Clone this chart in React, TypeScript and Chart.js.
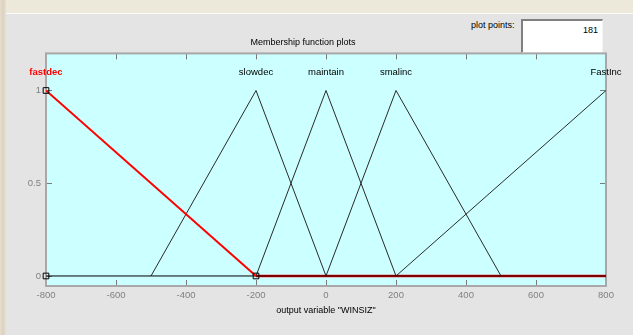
import React, { useEffect, useRef } from "react";
import { Chart, registerables } from "chart.js";

Chart.register(...registerables);

// ---- data ----
const xTickValues = [-800, -600, -400, -200, 0, 200, 400, 600, 800];
const yTickValues = [0, 0.5, 1];
const mfNames = ["fastdec", "slowdec", "maintain", "smalinc", "FastInc"];
const mfLabelX = [-800, -200, 0, 200, 800];
const fastdecX = [-800, -200];
const fastdecY = [1, 0];
const fastdecTailX = [-200, 800];
const fastdecTailY = [0, 0];
const slowdecX = [-500, -200, 0];
const slowdecY = [0, 1, 0];
const maintainX = [-200, 0, 200];
const maintainY = [0, 1, 0];
const smalincX = [0, 200, 500];
const smalincY = [0, 1, 0];
const fastincX = [200, 800];
const fastincY = [0, 1];
const zeroX = [-800, 800];
const zeroY = [0, 0];
const handleX = [-800, -800, -200];
const handleY = [1, 0, 0];
const plotPoints = 181;
const chartTitle = "Membership function plots";
const xAxisTitle = 'output variable "WINSIZ"';

const pts = (xs: number[], ys: number[]) => xs.map((x, i) => ({ x, y: ys[i] }));

const FONT = "'Liberation Sans', Arial, sans-serif";

const mfPlugin = {
  id: "mfDecor",
  beforeDatasetsDraw(chart: any) {
    const { ctx, chartArea: a, scales } = chart;
    ctx.save();
    ctx.fillStyle = "#ccffff";
    ctx.fillRect(a.left, a.top, a.right - a.left, a.bottom - a.top);
    // inner ticks
    ctx.strokeStyle = "#7a7a7a";
    ctx.lineWidth = 1;
    ctx.beginPath();
    for (const v of xTickValues) {
      const px = Math.round(scales.x.getPixelForValue(v)) + 0.5;
      ctx.moveTo(px, a.bottom);
      ctx.lineTo(px, a.bottom - 6);
      ctx.moveTo(px, a.top);
      ctx.lineTo(px, a.top + 6);
    }
    for (const v of yTickValues) {
      const py = Math.round(scales.y.getPixelForValue(v)) + 0.5;
      ctx.moveTo(a.left, py);
      ctx.lineTo(a.left + 6, py);
      ctx.moveTo(a.right, py);
      ctx.lineTo(a.right - 6, py);
    }
    ctx.stroke();
    // border
    ctx.strokeStyle = "#a8a8a8";
    ctx.lineWidth = 2;
    ctx.strokeRect(a.left, a.top, a.right - a.left, a.bottom - a.top);
    ctx.restore();
  },
  afterDatasetsDraw(chart: any) {
    const { ctx, scales } = chart;
    ctx.save();
    ctx.textAlign = "center";
    ctx.textBaseline = "middle";
    const py = scales.y.getPixelForValue(1.1);
    mfNames.forEach((name, i) => {
      const px = scales.x.getPixelForValue(mfLabelX[i]);
      if (i === 0) {
        ctx.fillStyle = "#ff0000";
        ctx.font = `bold 9.5px ${FONT}`;
      } else {
        ctx.fillStyle = "#000000";
        ctx.font = `9.5px ${FONT}`;
      }
      ctx.fillText(name, px, py);
    });
    ctx.restore();
  },
};

export default function App() {
  const ref = useRef<HTMLCanvasElement | null>(null);

  useEffect(() => {
    if (!ref.current) return;
    const black = "#2a2a2a";
    const chart = new Chart(ref.current, {
      type: "scatter",
      data: {
        datasets: [
          {
            label: "handles",
            data: pts(handleX, handleY),
            showLine: false,
            pointStyle: "rect",
            pointRadius: 4,
            borderColor: "#000",
            backgroundColor: "rgba(0,0,0,0)",
            borderWidth: 1,
            clip: false,
            order: 0,
          } as any,
          {
            label: "fastdec",
            data: pts(fastdecX, fastdecY),
            showLine: true,
            borderColor: "#ff0000",
            borderWidth: 2,
            pointRadius: 0,
            order: 1,
          },
          {
            label: "zero",
            data: pts(zeroX, zeroY),
            showLine: true,
            borderColor: "#000",
            borderWidth: 1,
            pointRadius: 0,
            order: 2,
          },
          {
            label: "slowdec",
            data: pts(slowdecX, slowdecY),
            showLine: true,
            borderColor: black,
            borderWidth: 1,
            pointRadius: 0,
            order: 3,
          },
          {
            label: "maintain",
            data: pts(maintainX, maintainY),
            showLine: true,
            borderColor: black,
            borderWidth: 1,
            pointRadius: 0,
            order: 3,
          },
          {
            label: "smalinc",
            data: pts(smalincX, smalincY),
            showLine: true,
            borderColor: black,
            borderWidth: 1,
            pointRadius: 0,
            order: 3,
          },
          {
            label: "FastInc",
            data: pts(fastincX, fastincY),
            showLine: true,
            borderColor: black,
            borderWidth: 1,
            pointRadius: 0,
            order: 3,
          },
          {
            label: "fastdecTail",
            data: pts(fastdecTailX, fastdecTailY),
            showLine: true,
            borderColor: "#ff0000",
            borderWidth: 2.5,
            pointRadius: 0,
            order: 5,
          },
        ],
      },
      options: {
        animation: false,
        responsive: false,
        maintainAspectRatio: false,
        events: [],
        layout: { padding: { top: 0, right: 27, left: 0, bottom: 0 } },
        plugins: {
          legend: { display: false },
          tooltip: { enabled: false },
          title: {
            display: true,
            text: chartTitle,
            color: "#000",
            font: { family: FONT, size: 9, weight: "normal" },
            padding: { top: 37, bottom: 5.6 },
          },
        },
        scales: {
          x: {
            type: "linear",
            min: -800,
            max: 800,
            grid: { display: false, drawTicks: false, tickLength: 0 },
            border: { display: false },
            afterBuildTicks: (s: any) => {
              s.ticks = xTickValues.map((v) => ({ value: v }));
            },
            afterFit: (s: any) => {
              s.height = 49;
            },
            ticks: {
              color: "#808080",
              font: { family: FONT, size: 9.5 },
              padding: 4,
              maxRotation: 0,
              autoSkip: false,
              callback: (v: any) => String(v),
            },
            title: {
              display: true,
              text: xAxisTitle,
              color: "#000",
              font: { family: FONT, size: 9 },
              padding: { top: 0, bottom: 18.6 },
            },
          },
          y: {
            type: "linear",
            min: -0.054,
            max: 1.2,
            grid: { display: false, drawTicks: false, tickLength: 0 },
            border: { display: false },
            afterBuildTicks: (s: any) => {
              s.ticks = yTickValues.map((v) => ({ value: v }));
            },
            afterFit: (s: any) => {
              s.width = 46;
            },
            ticks: {
              color: "#808080",
              font: { family: FONT, size: 9.5 },
              padding: 5,
              autoSkip: false,
              callback: (v: any) => String(v),
            },
          },
        },
      },
      plugins: [mfPlugin],
    });
    return () => chart.destroy();
  }, []);

  return (
    <div
      style={{
        position: "absolute",
        left: 0,
        top: 0,
        width: 633,
        height: 335,
        background: "#e4e4e4",
        overflow: "hidden",
        fontFamily: FONT,
      }}
    >
      <div style={{ position: "absolute", left: 0, top: 0, width: 633, height: 13, background: "#ece8da" }} />
      <div style={{ position: "absolute", left: 0, top: 13, width: 633, height: 1, background: "#fbfbfb" }} />
      <div
        style={{
          position: "absolute",
          left: 0,
          top: 0,
          width: 6,
          height: 335,
          background: "linear-gradient(90deg, #e6ddcc, #dcd2c0 50%, #e8e0d0)",
        }}
      />
      <div
        style={{
          position: "absolute",
          left: 471,
          top: 20,
          fontSize: 9,
          color: "#000",
          lineHeight: "11px",
          whiteSpace: "nowrap",
        }}
      >
        plot points:
      </div>
      <div
        style={{
          position: "absolute",
          left: 521,
          top: 19,
          width: 79,
          height: 27,
          background: "#fff",
          borderTop: "2px solid #808080",
          borderLeft: "2px solid #808080",
          borderRight: "1px solid #f4f4f4",
          borderBottom: "1px solid #f4f4f4",
          fontSize: 9,
          lineHeight: "11px",
          textAlign: "right",
          paddingTop: 4,
          boxSizing: "content-box",
        }}
      >
        <span style={{ paddingRight: 4 }}>{plotPoints}</span>
      </div>
      <canvas
        ref={ref}
        width={633}
        height={335}
        style={{ position: "absolute", left: 0, top: 0, width: 633, height: 335 }}
      />
    </div>
  );
}
